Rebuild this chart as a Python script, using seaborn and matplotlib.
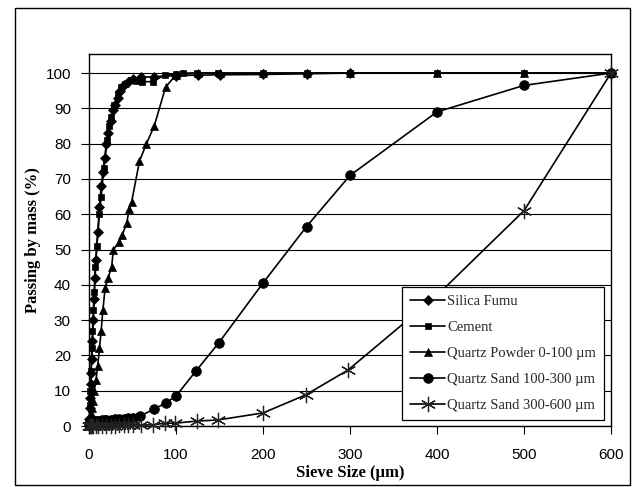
import matplotlib
matplotlib.use("Agg")
import matplotlib.pyplot as plt
import seaborn as sns
import pandas as pd
from matplotlib.patches import Rectangle

# ---- data ----
sf_x = [0.3, 0.5, 1, 1.5, 2, 2.5, 3, 4, 5, 6, 7, 8, 10, 12, 14, 16, 18, 20, 22, 25, 28, 30, 33, 36,
        40, 45, 50, 60, 75, 100, 125, 150, 200, 250, 300, 600]
sf_y = [0, 2, 5, 8, 12, 15, 19, 24, 30, 36, 42, 47, 55, 62, 68, 72, 76, 80, 83, 86.5, 89.5, 91, 93, 95,
        96.5, 97.5, 98.3, 98.8, 99, 99.3, 99.4, 99.5, 99.6, 99.8, 100, 100]

cem_x = [0.5, 1, 1.5, 2.3, 3.4, 4, 5, 6, 7, 9, 12, 14, 17, 21, 23, 25, 29, 33, 37, 41, 48, 55, 61, 73,
         87, 100, 108, 124, 148, 200, 250, 300, 400, 500, 600]
cem_y = [1, 6, 10, 15.5, 22, 27, 33, 38, 45, 51, 60, 65, 73, 81, 85, 87.5, 91, 94, 96, 97, 98, 97.7, 97.5, 97.6,
         99.4, 99.6, 100, 100, 100, 100, 100, 100, 100, 100, 100]

qp_x = [0.5, 1, 2, 3, 4, 5, 6, 8, 10, 12, 14, 16, 18.5, 22, 26, 28, 34.5, 38, 43.5, 46, 49,
        58, 66, 75, 88, 100, 125, 150, 200, 250, 300, 400, 500, 600]
qp_y = [0, 0.5, 1.5, 3, 5, 7, 10, 13, 17, 22, 27, 33, 39, 42, 45, 50, 52, 54, 57.5, 61.5, 63.5,
        75, 80, 85, 96, 99.5, 100, 100, 100, 100, 100, 100, 100, 100]

qs1_x = [0.5, 1, 2, 3, 4, 5, 6, 8, 10, 12, 15, 18, 20, 25, 30, 35, 40, 45, 50, 58.5, 75, 88, 100,
         123, 149, 200, 250, 300, 400, 500, 600]
qs1_y = [0.5, 0.8, 1, 1.1, 1.2, 1.3, 1.3, 1.4, 1.5, 1.5, 1.6, 1.6, 1.7, 1.8, 1.9, 2, 2.1, 2.2, 2.4, 2.8,
         4.8, 6.5, 8.5, 15.6, 23.5, 40.5, 56.5, 71, 89, 96.5, 100]

qs2_x = [0.5, 1, 2, 3, 5, 8, 10, 15, 20, 25, 30, 35, 40, 45, 50, 60, 73, 87, 99, 124, 148, 200, 249,
         298, 400, 500, 600]
qs2_y = [0, 0, 0, 0, 0, 0, 0, 0, 0.1, 0.1, 0.1, 0.2, 0.2, 0.2, 0.3, 0.3, 0.3, 0.8, 0.8, 1.4, 1.7, 3.7, 8.8,
         15.9, 37, 61, 100]

labels = ["Silica Fumu", "Cement", "Quartz Powder 0-100 \u00b5m",
          "Quartz Sand 100-300 \u00b5m", "Quartz Sand 300-600 \u00b5m"]
x_ticks = [0, 100, 200, 300, 400, 500, 600]
y_ticks = [0, 10, 20, 30, 40, 50, 60, 70, 80, 90, 100]

sns.set_theme(style="white")
plt.rcParams['font.family'] = ['Liberation Serif', 'DejaVu Serif']

fig = plt.figure(figsize=(6.33, 4.87), dpi=100)
ax = fig.add_axes([89/633, 1-426/487, 522/633, 372/487])

series = [
    (sf_x, sf_y, 'D', 5, 'black'),
    (cem_x, cem_y, 's', 5, 'black'),
    (qp_x, qp_y, '^', 6, 'black'),
    (qs1_x, qs1_y, 'o', 7, 'black'),
    (qs2_x, qs2_y, (6, 2, 0), 11, '#222222'),
]
for (xs, ys, mk, ms, c), lab in zip(series, labels):
    df = pd.DataFrame({"x": xs, "y": ys})
    sns.lineplot(data=df, x="x", y="y", ax=ax, color='black', linewidth=1.2,
                 marker=mk, markersize=ms, markerfacecolor='black',
                 markeredgecolor=c, markeredgewidth=0.9 if mk == (6, 2, 0) else 0.5,
                 estimator=None, sort=False, label=lab, clip_on=False, zorder=3)

ax.set_xlim(0, 600)
ax.set_ylim(0, 105.4)
ax.set_xticks(x_ticks)
ax.set_yticks(y_ticks)
ax.yaxis.grid(True, color='black', linewidth=0.8)
ax.xaxis.grid(False)
ax.set_axisbelow(True)
for s in ax.spines.values():
    s.set_color('black')
    s.set_linewidth(1.0)
ax.tick_params(axis='both', direction='out', color='black', length=6, width=0.8,
               labelsize=11, labelcolor='black', bottom=True, left=True)
ax.tick_params(axis='x', pad=10)
ax.tick_params(axis='y', pad=7)
for t in ax.get_xticklabels() + ax.get_yticklabels():
    t.set_family(['Liberation Sans', 'DejaVu Sans'])

ax.set_xlabel("Sieve Size (\u00b5m)", fontsize=12, fontweight='bold', labelpad=2, color='black')
ax.set_ylabel("Passing by mass (%)", fontsize=12, fontweight='bold', labelpad=3, color='black')

leg = ax.legend(loc='lower right', bbox_to_anchor=(0.987, 0.016), fontsize=10.5,
                frameon=True, fancybox=False, shadow=False, edgecolor='black',
                framealpha=1, handlelength=2.4, handletextpad=0.15, labelspacing=0.88,
                borderpad=0.55, borderaxespad=0)
leg.set_zorder(10)
leg.get_frame().set_linewidth(0.9)

fig.patches.append(Rectangle((15/633, 1-485/487), 615/633, 477/487, transform=fig.transFigure,
                             fill=False, edgecolor='black', linewidth=1.0))

fig.savefig("out.png", dpi=100)
